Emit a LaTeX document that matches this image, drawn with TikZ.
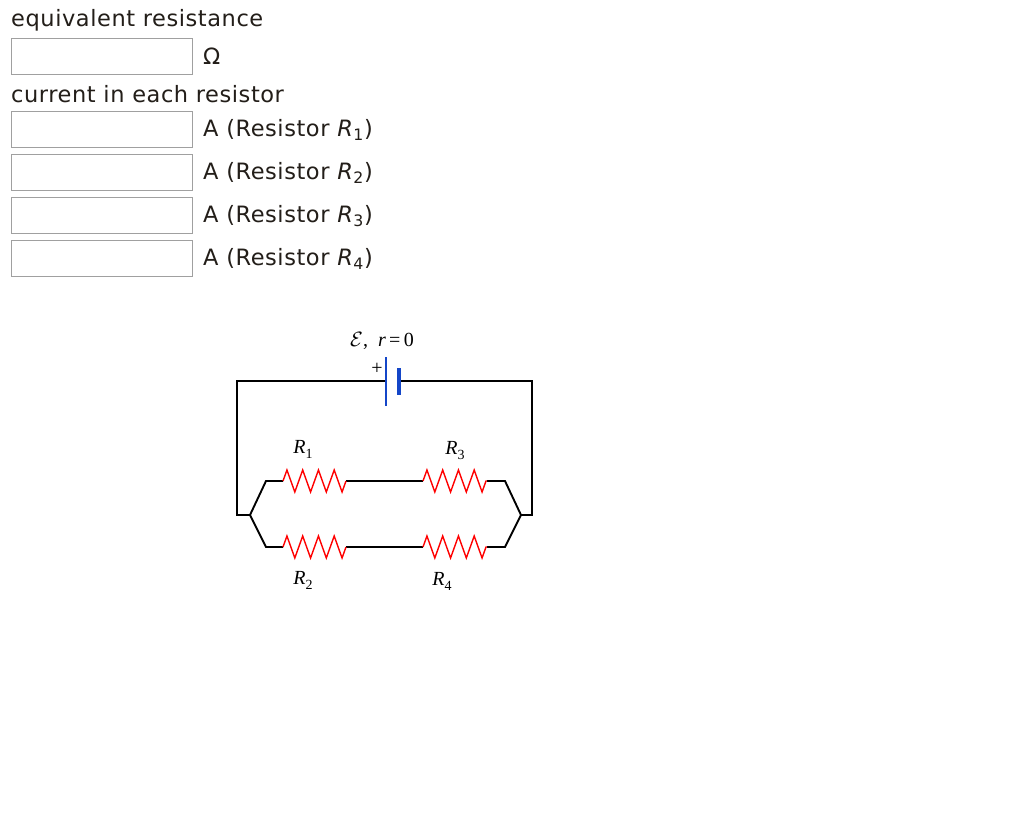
\documentclass[tikz,border=0pt]{standalone}
\usepackage{fontspec}
\setmainfont{DejaVu Sans}[LetterSpace=2.5]
\newfontfamily\timesf{Liberation Serif}
\usetikzlibrary{decorations.pathmorphing}
\definecolor{boxgray}{RGB}{160,160,160}
\definecolor{txt}{RGB}{35,30,25}
\definecolor{batblue}{RGB}{20,70,200}
\tikzset{x=1pt,y=-1pt,
 lbl/.style={anchor=west,inner sep=0,text=txt,font=\fontsize{22.5}{26}\selectfont},
 ansbox/.style={draw=boxgray,line width=1.2pt,minimum width=181pt,minimum height=36pt,anchor=north west,inner sep=0},
 wire/.style={line width=1.9pt,black},
 res/.style={red,line width=1.4pt,decorate,decoration={zigzag,segment length=15.75pt,amplitude=11pt,pre length=0pt,post length=0pt}},
 clbl/.style={inner sep=0,font=\timesf\fontsize{20}{22}\selectfont}}
\newcommand{\Rsub}[1]{\textit{R}\raisebox{-5pt}{\fontsize{14}{16}\selectfont #1}}
\begin{document}
\begin{tikzpicture}
\useasboundingbox[fill=white] (0,0) rectangle (1024,834);
\node[lbl] (t1) at (11,20) {equivalent resistance};
\node[ansbox] (b0) at (11,38) {};
\node[lbl] (om) at (203,56) {Ω};
\node[lbl] (t2) at (11,94) {current in each resistor};
\node[ansbox] (b1) at (11,111) {};
\node[lbl] (l1) at (203,130) {A (Resistor \textit{R}\textsubscript{1})};
\node[ansbox] (b2) at (11,154) {};
\node[lbl] (l2) at (203,173) {A (Resistor \textit{R}\textsubscript{2})};
\node[ansbox] (b3) at (11,197) {};
\node[lbl] (l3) at (203,216) {A (Resistor \textit{R}\textsubscript{3})};
\node[ansbox] (b4) at (11,240) {};
\node[lbl] (l4) at (203,259) {A (Resistor \textit{R}\textsubscript{4})};
% circuit
\coordinate (bp) at (386,381);
\coordinate (bn) at (399,381);
\coordinate (jl) at (250,515);
\coordinate (jr) at (521,515);
\draw[wire] (bp) -- (237,381) -- (237,515) -- (jl);
\draw[wire] (bn) -- (532,381) -- (532,515) -- (jr);
\draw[wire] (jl) -- (266,481) -- (283,481);
\draw[wire] (346,481) -- (423,481);
\draw[wire] (487,481) -- (505,481) -- (jr);
\draw[wire] (jl) -- (266,547) -- (283,547);
\draw[wire] (346,547) -- (423,547);
\draw[wire] (487,547) -- (505,547) -- (jr);
\draw[res] (283,481) -- (346,481);
\draw[res] (423,481) -- (487,481);
\draw[res] (283,547) -- (346,547);
\draw[res] (423,547) -- (487,547);
\draw[batblue,line width=1.3pt] (386,357) -- (386,406);
\draw[batblue,line width=3.5pt] (399,368) -- (399,395);
\node[clbl] (plus) at (377,369) {+};
\node[clbl] (emf) at (382,341) {$\mathcal{E}$,\ \ \textit{r}\,=\,0};
\node[clbl] (r1) at (303,449) {\Rsub{1}};
\node[clbl] (r3) at (455,451) {\Rsub{3}};
\node[clbl] (r2) at (303,580) {\Rsub{2}};
\node[clbl] (r4) at (442,581) {\Rsub{4}};
\end{tikzpicture}
\end{document}
